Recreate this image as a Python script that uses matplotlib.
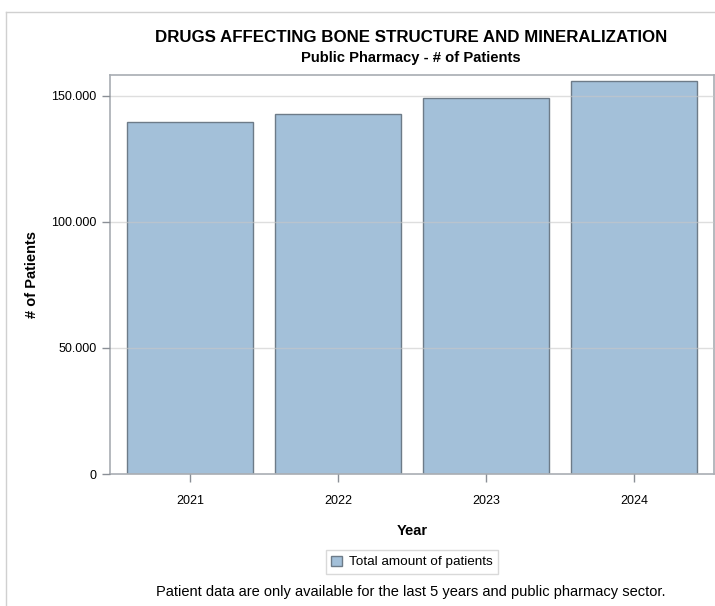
import matplotlib
matplotlib.use("Agg")
import matplotlib.pyplot as plt
from matplotlib.ticker import FuncFormatter
from matplotlib.lines import Line2D

# --- data ---
years = ["2021", "2022", "2023", "2024"]
patients = [139500, 142700, 149300, 155900]
y_ticks = [0, 50000, 100000, 150000]

title = "DRUGS AFFECTING BONE STRUCTURE AND MINERALIZATION"
subtitle = "Public Pharmacy - # of Patients"
legend_label = "Total amount of patients"
footnote = "Patient data are only available for the last 5 years and public pharmacy sector."

plt.rcParams["font.family"] = ["Liberation Sans", "DejaVu Sans"]

fig = plt.figure(figsize=(7.15, 6.06), dpi=100)
ax = fig.add_axes([0.1538, 0.2178, 0.8448, 0.6584])

# outer frame (only top/left edges visible in the original)
fig.add_artist(Line2D([6 / 715, 6 / 715], [0, 1 - 12 / 606], transform=fig.transFigure,
                      color="#d0d0d0", lw=1))
fig.add_artist(Line2D([6 / 715, 1], [1 - 12 / 606, 1 - 12 / 606], transform=fig.transFigure,
                      color="#d0d0d0", lw=1))

x = range(len(years))
ax.bar(x, patients, width=0.85, color="#a3c0d9", edgecolor="#6d7b88", linewidth=1,
       label=legend_label, zorder=2)

ax.set_xlim(-0.54, 3.54)
ax.set_ylim(0, 158300)
ax.set_xticks(list(x))
ax.set_xticklabels(years)
ax.set_yticks(y_ticks)
ax.yaxis.set_major_formatter(FuncFormatter(lambda v, p: f"{int(v):,}".replace(",", ".")))
ax.tick_params(axis="both", colors="#8a8f96", labelcolor="black", labelsize=9, length=6,
               width=1)
ax.tick_params(axis="x", pad=9)
ax.grid(axis="y", color="#c8c8c8", alpha=0.6, lw=1, zorder=3)
ax.set_axisbelow(False)
for s in ax.spines.values():
    s.set_color("#a8adb3")
    s.set_linewidth(1.2)

ax.set_xlabel("Year", fontsize=10.5, fontweight="bold", labelpad=12)
ax.set_ylabel("# of Patients", fontsize=10.5, fontweight="bold")
ax.yaxis.set_label_coords(-0.117, 0.5)

fig.text(0.575, 1 - 37 / 606, title, ha="center", va="center", fontsize=12.2, fontweight="bold")
fig.text(0.575, 1 - 58 / 606, subtitle, ha="center", va="center", fontsize=10.6,
         fontweight="bold")

leg = fig.legend(loc="center", bbox_to_anchor=(412 / 715, 1 - 562 / 606), frameon=True,
                 fancybox=False, fontsize=9.7, handlelength=0.8, handleheight=0.8,
                 handletextpad=0.5, borderpad=0.4)
leg.get_frame().set_edgecolor("#d0d0d0")
leg.get_frame().set_linewidth(1)

fig.text(0.575, 1 - 592 / 606, footnote, ha="center", va="center", fontsize=10.5)

fig.savefig("out.png", dpi=100)
